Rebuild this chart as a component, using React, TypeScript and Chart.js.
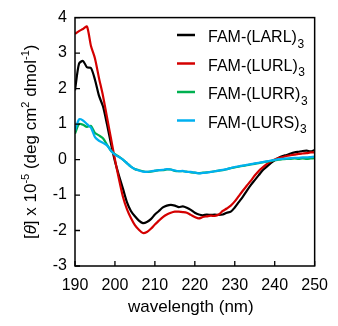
import React, { useEffect, useRef } from "react";
import { Chart, registerables } from "chart.js";

Chart.register(...registerables);

const wavelengths = [
  190, 191, 192, 193, 194, 195, 196, 197, 198, 199,
  200, 201, 202, 203, 204, 205, 206, 207, 208, 209,
  210, 211, 212, 213, 214, 215, 216, 217, 218, 219,
  220, 221, 222, 223, 224, 225, 226, 227, 228, 229,
  230, 231, 232, 233, 234, 235, 236, 237, 238, 239,
  240, 241, 242, 243, 244, 245, 246, 247, 248, 249, 250,
];

const larl = [
  1.95, 2.7, 2.78, 2.6, 2.58, 2.25, 1.8, 1.5, 1.0, 0.45,
  -0.05, -0.45, -0.82, -1.2, -1.45, -1.6, -1.72, -1.79, -1.76, -1.68,
  -1.55, -1.45, -1.35, -1.3, -1.28, -1.3, -1.34, -1.32, -1.36, -1.42,
  -1.5, -1.55, -1.57, -1.55, -1.56, -1.55, -1.56, -1.55, -1.5, -1.47,
  -1.35, -1.2, -1.05, -0.88, -0.72, -0.58, -0.44, -0.3, -0.2, -0.1,
  -0.02, 0.05, 0.1, 0.13, 0.17, 0.2, 0.22, 0.24, 0.25, 0.23, 0.27,
];

const lurl = [
  3.54, 3.62, 3.68, 3.75, 3.2, 2.85, 2.3, 1.8, 1.2, 0.6,
  0.0, -0.55, -1.05, -1.4, -1.65, -1.85, -1.98, -2.07, -2.04, -1.95,
  -1.83, -1.72, -1.62, -1.55, -1.5, -1.47, -1.47, -1.48, -1.5, -1.56,
  -1.62, -1.66, -1.62, -1.6, -1.58, -1.59, -1.55, -1.45, -1.38, -1.3,
  -1.18, -1.03, -0.88, -0.74, -0.6, -0.45, -0.32, -0.22, -0.13, -0.06,
  0.0, 0.04, 0.07, 0.1, 0.12, 0.14, 0.16, 0.17, 0.18, 0.2, 0.2,
];

const lurr = [
  0.73, 1.0, 0.98, 0.92, 0.95, 0.75, 0.68, 0.6, 0.42, 0.25,
  0.15, 0.08, 0.0, -0.1, -0.2, -0.27, -0.3, -0.33, -0.35, -0.34,
  -0.32, -0.3, -0.3, -0.28, -0.28, -0.32, -0.33, -0.33, -0.34, -0.36,
  -0.37, -0.38, -0.37, -0.36, -0.35, -0.33, -0.31, -0.3, -0.27, -0.24,
  -0.22, -0.2, -0.18, -0.16, -0.14, -0.12, -0.1, -0.08, -0.06, -0.04,
  -0.02, 0.0, 0.01, 0.02, 0.02, 0.03, 0.02, 0.03, 0.02, 0.03, 0.04,
];

const lurs = [
  0.82, 1.13, 1.1, 1.0, 0.9, 0.63, 0.53, 0.47, 0.4, 0.25,
  0.14, 0.07, 0.0, -0.1, -0.2, -0.27, -0.31, -0.34, -0.35, -0.33,
  -0.31, -0.3, -0.29, -0.27, -0.28, -0.31, -0.33, -0.32, -0.35, -0.35,
  -0.37, -0.39, -0.38, -0.37, -0.35, -0.33, -0.31, -0.29, -0.27, -0.24,
  -0.21, -0.19, -0.17, -0.15, -0.13, -0.11, -0.09, -0.07, -0.05, -0.03,
  -0.01, 0.01, 0.02, 0.03, 0.04, 0.05, 0.05, 0.06, 0.06, 0.07, 0.08,
];

const seriesNames = ["FAM-(LARL)", "FAM-(LURL)", "FAM-(LURR)", "FAM-(LURS)"];
const seriesSub = "3";
const seriesColors = ["#000000", "#d40000", "#00b050", "#00b0f0"];
const seriesValues = [larl, lurl, lurr, lurs];

const xTicks = [190, 200, 210, 220, 230, 240, 250];
const yTicks = [-3, -2, -1, 0, 1, 2, 3, 4];
const xTitle = "wavelength (nm)";

const FONT = "'Liberation Sans', Arial, sans-serif";

const framePlugin = {
  id: "frameAndText",
  afterDraw(chart: any) {
    const { ctx, chartArea } = chart;
    const xs = chart.scales.x;
    const ys = chart.scales.y;
    const { left, right, top, bottom } = chartArea;
    ctx.save();
    // frame
    ctx.strokeStyle = "#000";
    ctx.lineWidth = 1.5;
    ctx.strokeRect(left, top, right - left, bottom - top);
    // inner ticks
    ctx.lineWidth = 1.3;
    ctx.beginPath();
    xTicks.forEach((v) => {
      const px = xs.getPixelForValue(v);
      ctx.moveTo(px, bottom);
      ctx.lineTo(px, bottom - 5);
    });
    yTicks.forEach((v) => {
      const py = ys.getPixelForValue(v);
      ctx.moveTo(left, py);
      ctx.lineTo(left + 5, py);
    });
    ctx.stroke();

    // x title
    ctx.fillStyle = "#000";
    ctx.font = `17px ${FONT}`;
    ctx.textAlign = "center";
    ctx.textBaseline = "middle";
    ctx.fillText(xTitle, (left + right) / 2 - 4, 307);

    // y title with superscripts
    const parts: { t: string; sup?: boolean; it?: boolean }[] = [
      { t: "[" },
      { t: "\u03b8", it: true },
      { t: "] x 10" },
      { t: "-5", sup: true },
      { t: " (deg cm" },
      { t: "2", sup: true },
      { t: " dmol" },
      { t: "-1", sup: true },
      { t: ")" },
    ];
    const mainF = `17px ${FONT}`;
    const itF = `italic 17px ${FONT}`;
    const supF = `11px ${FONT}`;
    let total = 0;
    parts.forEach((p) => {
      ctx.font = p.sup ? supF : p.it ? itF : mainF;
      total += ctx.measureText(p.t).width;
    });
    ctx.translate(30, (top + bottom) / 2);
    ctx.rotate(-Math.PI / 2);
    ctx.textAlign = "left";
    ctx.textBaseline = "alphabetic";
    let cx = -total / 2;
    parts.forEach((p) => {
      ctx.font = p.sup ? supF : p.it ? itF : mainF;
      ctx.fillText(p.t, cx, p.sup ? 6 - 7 : 6);
      cx += ctx.measureText(p.t).width;
    });
    ctx.restore();

    // legend
    ctx.save();
    const rowY = [35, 63.5, 92, 120.5];
    seriesNames.forEach((name, i) => {
      const y = rowY[i];
      ctx.strokeStyle = seriesColors[i];
      ctx.lineWidth = 2.5;
      ctx.beginPath();
      ctx.moveTo(177, y);
      ctx.lineTo(195, y);
      ctx.stroke();
      ctx.fillStyle = "#000";
      ctx.font = `16px ${FONT}`;
      ctx.textAlign = "left";
      ctx.textBaseline = "alphabetic";
      ctx.fillText(name, 208, y + 7);
      const w = ctx.measureText(name).width;
      ctx.font = `12px ${FONT}`;
      ctx.fillText(seriesSub, 208 + w + 0.5, y + 12.5);
    });
    ctx.restore();
  },
};

export default function App() {
  const ref = useRef<HTMLCanvasElement>(null);
  useEffect(() => {
    document.body.style.margin = "0";
    const canvas = ref.current;
    if (!canvas) return;
    const datasets = seriesNames.map((name, i) => ({
      label: name + seriesSub,
      data: wavelengths.map((x, j) => ({ x, y: seriesValues[i][j] })),
      borderColor: seriesColors[i],
      backgroundColor: seriesColors[i],
      borderWidth: 2.2,
      pointRadius: 0,
      tension: 0.25,
      fill: false,
      order: 4 - i,
    }));
    const chart = new Chart(canvas, {
      type: "line",
      data: { datasets },
      options: {
        animation: false,
        responsive: false,
        maintainAspectRatio: false,
        layout: { padding: { top: 17, right: 15, left: 0, bottom: 0 } },
        plugins: {
          legend: { display: false },
          tooltip: { enabled: false },
        },
        scales: {
          x: {
            type: "linear",
            min: 190,
            max: 250,
            afterFit: (s: any) => {
              s.height = 60;
            },
            afterBuildTicks: (s: any) => {
              s.ticks = xTicks.map((v) => ({ value: v }));
            },
            grid: { display: false, drawTicks: false },
            border: { display: false },
            ticks: {
              color: "#000",
              font: { size: 16, family: FONT },
              padding: 10,
              maxRotation: 0,
            },
          },
          y: {
            type: "linear",
            min: -3,
            max: 4,
            afterFit: (s: any) => {
              s.width = 75;
            },
            afterBuildTicks: (s: any) => {
              s.ticks = yTicks.map((v) => ({ value: v }));
            },
            grid: { display: false, drawTicks: false },
            border: { display: false },
            ticks: {
              color: "#000",
              font: { size: 16, family: FONT },
              padding: 8,
            },
          },
        },
      },
      plugins: [framePlugin],
    });
    return () => chart.destroy();
  }, []);
  return (
    <div style={{ width: 338, height: 326 }}>
      <canvas ref={ref} width={338} height={326} />
    </div>
  );
}
